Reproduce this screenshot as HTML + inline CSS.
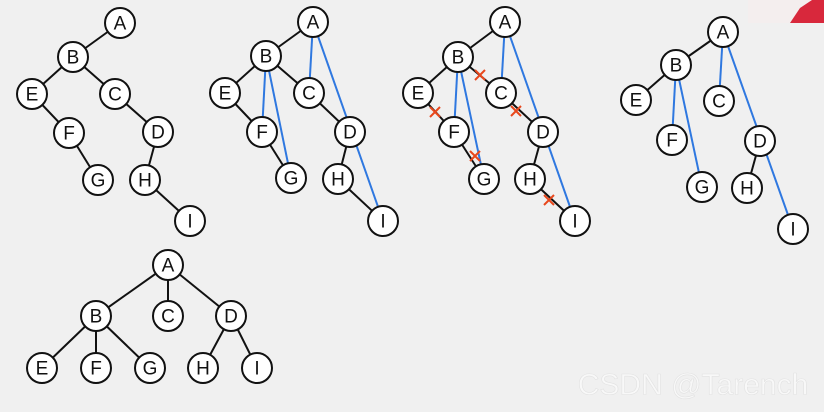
<!DOCTYPE html>
<html><head><meta charset="utf-8"><style>
html,body{margin:0;padding:0;background:#f0f0f0;}
svg{display:block}
text{font-family:"Liberation Sans",sans-serif;font-size:19px;text-anchor:middle;dominant-baseline:central;fill:#111}
</style></head><body>
<svg width="824" height="412" viewBox="0 0 824 412" xmlns="http://www.w3.org/2000/svg">
<rect width="824" height="412" fill="#f0f0f0"/>
<rect x="748" y="0" width="76" height="23" fill="#f4eeee"/>
<path d="M790 23 L800 8 L812 0 L824 0 L824 23 Z" fill="#d8283c"/>
<g stroke="#111" stroke-width="2">
<line x1="120" y1="23" x2="73" y2="57"/><line x1="73" y1="57" x2="32" y2="94"/><line x1="73" y1="57" x2="115" y2="94"/>
<line x1="32" y1="94" x2="69" y2="133"/><line x1="69" y1="133" x2="98" y2="180"/><line x1="115" y1="94" x2="158" y2="132"/>
<line x1="158" y1="132" x2="145" y2="180"/><line x1="145" y1="180" x2="190" y2="221"/>
<line x1="313" y1="22" x2="266" y2="56"/><line x1="266" y1="56" x2="225" y2="93"/><line x1="266" y1="56" x2="309" y2="93"/>
<line x1="225" y1="93" x2="262" y2="132"/><line x1="262" y1="132" x2="291" y2="178"/><line x1="309" y1="93" x2="350" y2="132"/>
<line x1="350" y1="132" x2="338" y2="179"/><line x1="338" y1="179" x2="383" y2="221"/>
<line x1="505" y1="22" x2="458" y2="57"/><line x1="458" y1="57" x2="418" y2="93"/><line x1="458" y1="57" x2="501" y2="93"/>
<line x1="418" y1="93" x2="454" y2="132"/><line x1="454" y1="132" x2="484" y2="179"/><line x1="501" y1="93" x2="543" y2="132"/>
<line x1="543" y1="132" x2="530" y2="179"/><line x1="530" y1="179" x2="575" y2="221"/>
<line x1="723" y1="32" x2="676" y2="65"/><line x1="676" y1="65" x2="636" y2="100"/><line x1="760" y1="141" x2="747" y2="188"/>
<line x1="168" y1="265" x2="96" y2="316"/><line x1="168" y1="265" x2="168" y2="316"/><line x1="168" y1="265" x2="231" y2="316"/>
<line x1="96" y1="316" x2="42" y2="368"/><line x1="96" y1="316" x2="96" y2="368"/><line x1="96" y1="316" x2="150" y2="368"/>
<line x1="231" y1="316" x2="203" y2="368"/><line x1="231" y1="316" x2="257" y2="368"/>
</g>
<g stroke="#2f78e0" stroke-width="2">
<line x1="313" y1="22" x2="309" y2="93"/><line x1="313" y1="22" x2="383" y2="221"/><line x1="266" y1="56" x2="262" y2="132"/><line x1="266" y1="56" x2="291" y2="178"/>
<line x1="505" y1="22" x2="501" y2="93"/><line x1="505" y1="22" x2="575" y2="221"/><line x1="458" y1="57" x2="454" y2="132"/><line x1="458" y1="57" x2="484" y2="179"/>
<line x1="723" y1="32" x2="719" y2="101"/><line x1="723" y1="32" x2="793" y2="229"/><line x1="676" y1="65" x2="672" y2="140"/><line x1="676" y1="65" x2="702" y2="187"/>
</g>
<g stroke="#e8471c" stroke-width="2">
<path d="M475 70 l10 10 M485 70 l-10 10"/>
<path d="M430 107 l10 10 M440 107 l-10 10"/>
<path d="M470 151 l10 10 M480 151 l-10 10"/>
<path d="M511 106 l10 10 M521 106 l-10 10"/>
<path d="M544 195 l10 10 M554 195 l-10 10"/>
</g>
<g fill="#fff" stroke="#111" stroke-width="2">
<circle cx="120" cy="23" r="15"/><circle cx="73" cy="57" r="15"/><circle cx="32" cy="94" r="15"/><circle cx="115" cy="94" r="15"/><circle cx="69" cy="133" r="15"/><circle cx="158" cy="132" r="15"/><circle cx="98" cy="180" r="15"/><circle cx="145" cy="180" r="15"/><circle cx="190" cy="221" r="15"/>
<circle cx="313" cy="22" r="15"/><circle cx="266" cy="56" r="15"/><circle cx="225" cy="93" r="15"/><circle cx="309" cy="93" r="15"/><circle cx="262" cy="132" r="15"/><circle cx="350" cy="132" r="15"/><circle cx="291" cy="178" r="15"/><circle cx="338" cy="179" r="15"/><circle cx="383" cy="221" r="15"/>
<circle cx="505" cy="22" r="15"/><circle cx="458" cy="57" r="15"/><circle cx="418" cy="93" r="15"/><circle cx="501" cy="93" r="15"/><circle cx="454" cy="132" r="15"/><circle cx="543" cy="132" r="15"/><circle cx="484" cy="179" r="15"/><circle cx="530" cy="179" r="15"/><circle cx="575" cy="221" r="15"/>
<circle cx="723" cy="32" r="15"/><circle cx="676" cy="65" r="15"/><circle cx="636" cy="100" r="15"/><circle cx="719" cy="101" r="15"/><circle cx="672" cy="140" r="15"/><circle cx="760" cy="141" r="15"/><circle cx="702" cy="187" r="15"/><circle cx="747" cy="188" r="15"/><circle cx="793" cy="229" r="15"/>
<circle cx="168" cy="265" r="15"/><circle cx="96" cy="316" r="15"/><circle cx="168" cy="316" r="15"/><circle cx="231" cy="316" r="15"/><circle cx="42" cy="368" r="15"/><circle cx="96" cy="368" r="15"/><circle cx="150" cy="368" r="15"/><circle cx="203" cy="368" r="15"/><circle cx="257" cy="368" r="15"/>
</g>
<g>
<text x="120" y="24">A</text><text x="73" y="58">B</text><text x="32" y="95">E</text><text x="115" y="95">C</text><text x="69" y="134">F</text><text x="158" y="133">D</text><text x="98" y="181">G</text><text x="145" y="181">H</text><text x="190" y="222">I</text>
<text x="313" y="23">A</text><text x="266" y="57">B</text><text x="225" y="94">E</text><text x="309" y="94">C</text><text x="262" y="133">F</text><text x="350" y="133">D</text><text x="291" y="179">G</text><text x="338" y="180">H</text><text x="383" y="222">I</text>
<text x="505" y="23">A</text><text x="458" y="58">B</text><text x="418" y="94">E</text><text x="501" y="94">C</text><text x="454" y="133">F</text><text x="543" y="133">D</text><text x="484" y="180">G</text><text x="530" y="180">H</text><text x="575" y="222">I</text>
<text x="723" y="33">A</text><text x="676" y="66">B</text><text x="636" y="101">E</text><text x="719" y="102">C</text><text x="672" y="141">F</text><text x="760" y="142">D</text><text x="702" y="188">G</text><text x="747" y="189">H</text><text x="793" y="230">I</text>
<text x="168" y="266">A</text><text x="96" y="317">B</text><text x="168" y="317">C</text><text x="231" y="317">D</text><text x="42" y="369">E</text><text x="96" y="369">F</text><text x="150" y="369">G</text><text x="203" y="369">H</text><text x="257" y="369">I</text>
</g>
<text x="693" y="385" style="font-size:30px;fill:#f8f8f8;stroke:#e2e2e2;stroke-width:0.6">CSDN @Tarench</text>
</svg>
</body></html>
